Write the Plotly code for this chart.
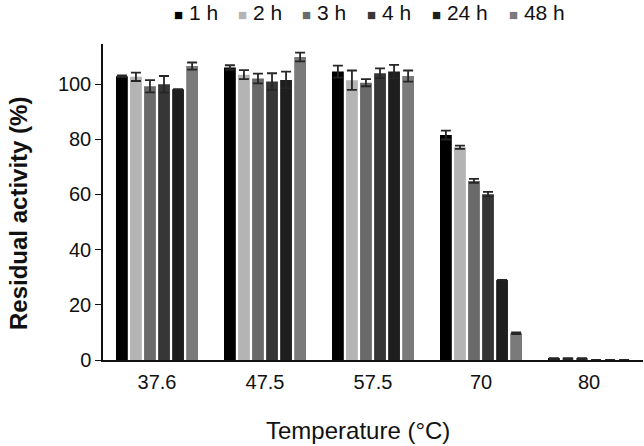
import plotly.graph_objects as go

temperatures = ["37.6", "47.5", "57.5", "70", "80"]
series_names = ["1 h", "2 h", "3 h", "4 h", "24 h", "48 h"]
values = {
    "1 h":  [102.8, 106.0, 104.5, 81.5, 0.5],
    "2 h":  [102.6, 103.4, 101.4, 77.1, 0.5],
    "3 h":  [99.2, 102.0, 100.5, 64.9, 0.5],
    "4 h":  [99.9, 100.9, 103.9, 60.1, 0.0],
    "24 h": [98.1, 101.5, 104.5, 29.0, 0.0],
    "48 h": [106.5, 109.8, 102.9, 9.7, 0.0],
}
errors = {
    "1 h":  [0.3, 0.8, 2.2, 1.6, 0.2],
    "2 h":  [1.5, 1.6, 3.5, 0.6, 0.2],
    "3 h":  [2.2, 1.8, 1.3, 0.7, 0.2],
    "4 h":  [3.0, 3.0, 1.8, 0.8, 0.0],
    "24 h": [0.0, 3.0, 2.4, 0.0, 0.0],
    "48 h": [1.3, 1.6, 2.0, 0.3, 0.0],
}
colors = ["#000000", "#b4b4b4", "#6a6a6a", "#363636", "#1e1e1e", "#7a7a7a"]

x_title = "Temperature (°C)"
y_title = "Residual activity (%)"

# legend layout (paper x of each entry's left edge)
legend_x = [0.128, 0.246, 0.365, 0.485, 0.605, 0.748]

fig = go.Figure()
for name, color in zip(series_names, colors):
    fig.add_trace(go.Bar(
        name=name, x=temperatures, y=values[name],
        marker=dict(color=color, line=dict(width=0)),
        error_y=dict(type="data", array=errors[name], visible=True,
                     color="#262626", thickness=1.8, width=5),
        showlegend=False,
    ))

for name, color, lx in zip(series_names, colors, legend_x):
    fig.add_annotation(
        xref="paper", yref="paper", x=lx, y=1.0, yshift=32,
        xanchor="left", yanchor="middle", showarrow=False,
        text=f'<span style="color:{color};font-size:15px">■</span> {name}',
        font=dict(size=21, color="#111111"),
    )

fig.add_annotation(
    xref="paper", yref="paper", x=0.472, y=0, yshift=-70,
    xanchor="center", yanchor="middle", showarrow=False,
    text=x_title, font=dict(size=24, color="#111111"),
)
fig.add_annotation(
    xref="paper", yref="paper", x=0, xshift=-85, y=0.462,
    xanchor="center", yanchor="middle", showarrow=False, textangle=-90,
    text=f"<b>{y_title}</b>", font=dict(size=24, color="#111111"),
)

font_family = "Liberation Sans, Arial, sans-serif"
fig.update_layout(
    width=644, height=446,
    margin=dict(l=103, r=1, t=44, b=86, autoexpand=False),
    paper_bgcolor="white", plot_bgcolor="white",
    barmode="group", bargap=0.22, bargroupgap=0.16,
    font=dict(family=font_family, color="#111111", size=20),
)
fig.update_xaxes(
    automargin=False,
    showline=True, linecolor="#111111", linewidth=1.5, ticks="",
    tickfont=dict(size=20), ticklabelstandoff=3,
)
fig.update_yaxes(
    automargin=False,
    range=[0, 114.5], tickvals=[0, 20, 40, 60, 80, 100],
    showline=True, linecolor="#111111", linewidth=1.5, ticks="outside", ticklen=6,
    tickcolor="#111111", showgrid=False, zeroline=False,
    tickfont=dict(size=20),
)
fig.write_html(
    "out.html",
    config={"displayModeBar": False},
    post_script="document.body.style.margin='0';document.body.style.padding='0';",
)
